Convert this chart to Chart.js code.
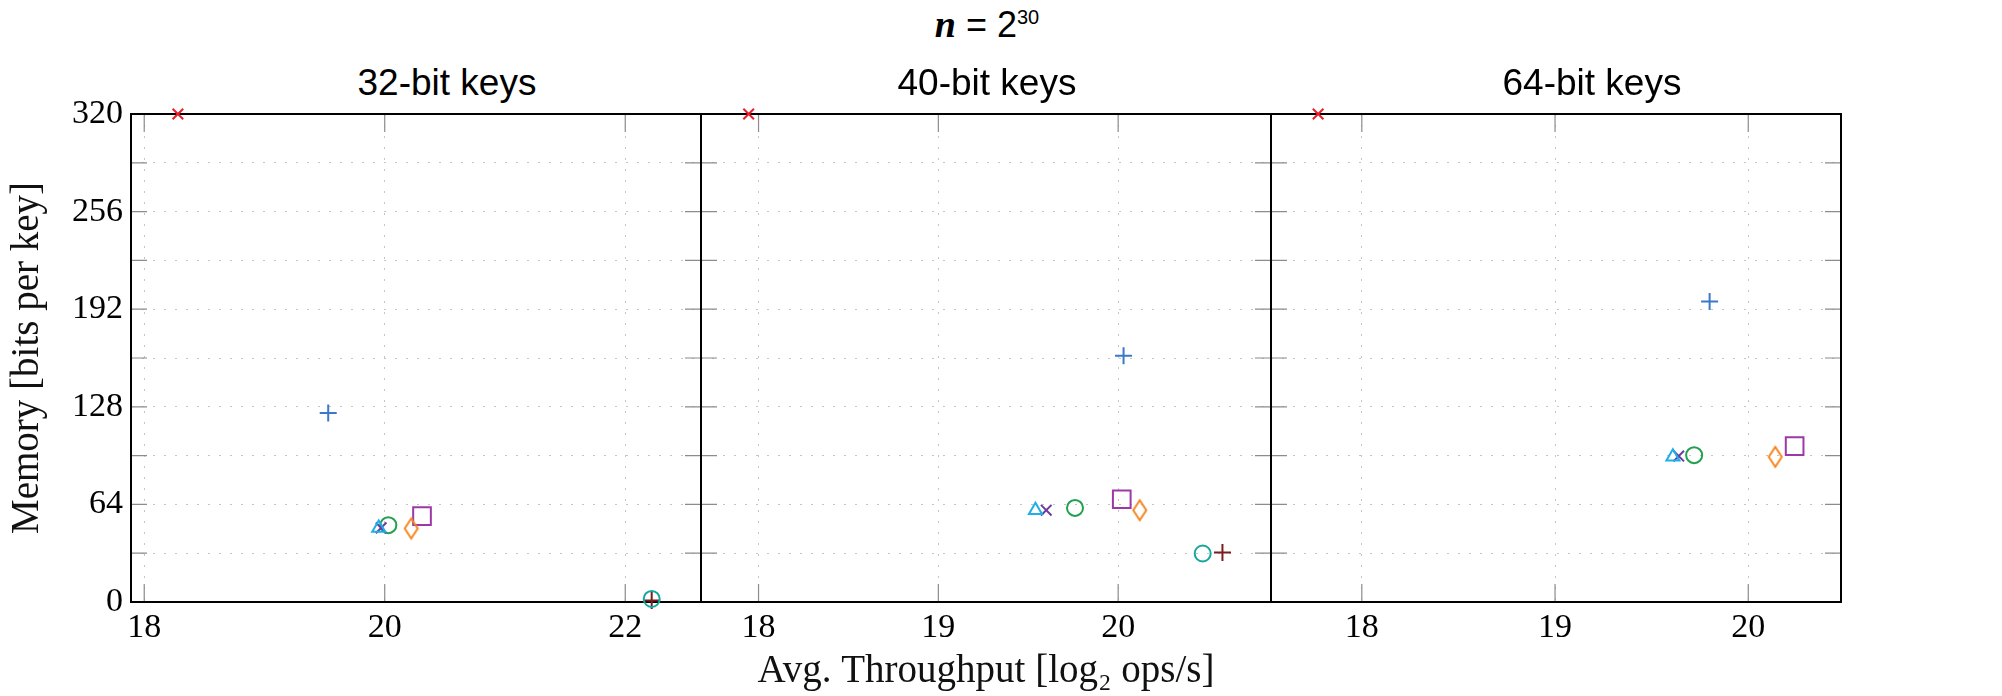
<!DOCTYPE html>
<html>
<head>
<meta charset="utf-8">
<title>n = 2^30 memory vs throughput</title>
<script src="https://cdn.jsdelivr.net/npm/chart.js@4.4.1/dist/chart.umd.min.js"></script>
<style>
  html, body { margin: 0; padding: 0; background: #fff; }
  #wrap { position: relative; width: 2002px; height: 696px; overflow: hidden; }
  #wrap canvas { position: absolute; left: 0; top: 0; }
  .ttl { position: absolute; transform: translateX(-50%); white-space: nowrap;
         font-family: 'Liberation Sans', Arial, sans-serif; color: #000; line-height: 1; }
</style>
</head>
<body>
<div id="wrap">
  <div class="ttl" style="left:987px; top:5px; font-size:36px;"><span style="font-family:'Liberation Serif',serif; font-weight:bold; font-style:italic; font-size:38px;">n</span> = 2<span style="font-size:20px; position:relative; top:-13px;">30</span></div>
</div>
<script>
// panels (one per key width)
const panelTitles = ['32-bit keys', '40-bit keys', '64-bit keys'];
const xMin = [17.89, 17.68, 17.53];
const xMax = [22.63, 20.85, 20.48];
const xTicks = [[18, 20, 22], [18, 19, 20], [18, 19, 20]];
const yTicks = [0, 32, 64, 96, 128, 160, 192, 224, 256, 288, 320];
const yLabels = [0, 64, 128, 192, 256, 320];

// avg throughput (log2 ops/s) per panel, null = not measured
const redCrossTp     = [18.28, 17.945, 17.774];
const blueplusTp     = [19.53, 20.03, 19.80];
const triangleTp     = [19.95, 19.54, 19.61];
const purpleCrossTp  = [19.97, 19.60, 19.64];
const greenCircleTp  = [20.03, 19.76, 19.72];
const diamondTp      = [20.22, 20.12, 20.14];
const squareTp       = [20.31, 20.02, 20.24];
const tealCircleTp   = [22.22, 20.47, null];
const darkPlusTp     = [22.22, 20.58, null];

// memory (bits per key) per panel
const redCrossMem    = [320, 320, 320];
const blueplusMem    = [124, 161.5, 197];
const triangleMem    = [48.6, 60.2, 95.2];
const purpleCrossMem = [48.6, 60.2, 95.7];
const greenCircleMem = [50.4, 61.7, 96.3];
const diamondMem     = [48.2, 60.2, 95.2];
const squareMem      = [56.3, 67.4, 102.2];
const tealCircleMem  = [2, 31.8, null];
const darkPlusMem    = [1, 32.4, null];

const seriesTp  = [redCrossTp, blueplusTp, triangleTp, purpleCrossTp, greenCircleTp, diamondTp, squareTp, tealCircleTp, darkPlusTp];
const seriesMem = [redCrossMem, blueplusMem, triangleMem, purpleCrossMem, greenCircleMem, diamondMem, squareMem, tealCircleMem, darkPlusMem];

// tall diamond marker
function diamond(color) {
  const c = document.createElement('canvas');
  c.width = 20; c.height = 26;
  const g = c.getContext('2d');
  g.strokeStyle = color; g.lineWidth = 2;
  g.beginPath();
  g.moveTo(10, 3); g.lineTo(16.5, 13); g.lineTo(10, 23); g.lineTo(3.5, 13);
  g.closePath(); g.stroke();
  return c;
}

const seriesStyle = [
  { color: '#e8202a', shape: 'crossRot', r: 7.5 },
  { color: '#3a78c9', shape: 'cross', r: 8.5 },
  { color: '#1eaee8', shape: 'triangle', r: 7.5 },
  { color: '#6a3c9e', shape: 'crossRot', r: 7.5 },
  { color: '#21a04f', shape: 'circle', r: 8 },
  { color: '#f5861f', shape: diamond('#f5861f'), r: 8 },
  { color: '#9c39a6', shape: 'rect', r: 12.5 },
  { color: '#14a89d', shape: 'circle', r: 8 },
  { color: '#7b1d1d', shape: 'cross', r: 8.5 }
];

// placement of each panel's plot area in the page
const areaLeft = [131, 701, 1271];
const areaRight = [701, 1271, 1841];
const titleCenter = [447, 987, 1592];

Chart.defaults.color = '#000';
Chart.defaults.font.family = "'Liberation Serif', serif";

const framePlugin = {
  id: 'frame',
  beforeDatasetsDraw(chart) {
    const { ctx, chartArea: a, scales } = chart;
    ctx.save();
    ctx.strokeStyle = '#8c8c8c';
    ctx.lineWidth = 1.2;
    ctx.beginPath();
    scales.y.ticks.forEach(t => {
      const py = scales.y.getPixelForValue(t.value);
      ctx.moveTo(a.left, py); ctx.lineTo(a.left + 16, py);
      ctx.moveTo(a.right - 16, py); ctx.lineTo(a.right, py);
    });
    scales.x.ticks.forEach(t => {
      const px = scales.x.getPixelForValue(t.value);
      ctx.moveTo(px, a.top); ctx.lineTo(px, a.top + 18);
      ctx.moveTo(px, a.bottom - 18); ctx.lineTo(px, a.bottom);
    });
    ctx.stroke();
    ctx.strokeStyle = '#000';
    ctx.lineWidth = 2;
    ctx.strokeRect(a.left, a.top, a.right - a.left, a.bottom - a.top);
    ctx.restore();
  }
};

const wrap = document.getElementById('wrap');

panelTitles.forEach((name, i) => {
  const t = document.createElement('div');
  t.className = 'ttl';
  t.style.left = titleCenter[i] + 'px';
  t.style.top = '64px';
  t.style.fontSize = '37px';
  t.textContent = name;
  wrap.appendChild(t);

  const cv = document.createElement('canvas');
  cv.width = 2002; cv.height = 696;
  wrap.appendChild(cv);

  const first = i === 0;
  const datasets = seriesStyle.map((st, s) => ({
    label: 'series ' + (s + 1),
    data: seriesTp[s]
      .map((x, p) => ({ x: x, y: seriesMem[s][p], p: p }))
      .filter(d => d.p === i && d.x !== null)
      .map(d => ({ x: d.x, y: d.y })),
    pointStyle: st.shape,
    pointRadius: st.r,
    pointBorderWidth: 2,
    pointBorderColor: st.color,
    pointBackgroundColor: 'rgba(0,0,0,0)',
    borderColor: st.color,
    backgroundColor: 'rgba(0,0,0,0)',
    showLine: false,
    clip: false
  }));

  const gridOpts = { color: '#c4c4c4', lineWidth: 1, drawTicks: false };
  const borderOpts = { display: false, dash: [2, 9] };

  new Chart(cv.getContext('2d'), {
    type: 'scatter',
    data: { datasets: datasets },
    options: {
      responsive: false,
      animation: false,
      devicePixelRatio: 1,
      layout: { padding: { left: first ? 0 : areaLeft[i], right: 2002 - areaRight[i], top: 114, bottom: 0 } },
      plugins: { legend: { display: false }, tooltip: { enabled: false } },
      scales: {
        x: {
          type: 'linear',
          min: xMin[i],
          max: xMax[i],
          afterBuildTicks: sc => { sc.ticks = xTicks[i].map(v => ({ value: v })); },
          afterFit: sc => { sc.height = 94; },
          grid: gridOpts,
          border: borderOpts,
          ticks: { padding: 6, color: '#000', font: { size: 34 } },
          title: {
            display: i === 1,
            text: 'Avg. Throughput [log\u2082 ops/s]',
            color: '#111',
            font: { size: 39 },
            padding: { top: 0, bottom: 1 }
          }
        },
        y: {
          type: 'linear',
          min: 0,
          max: 320,
          afterBuildTicks: sc => { sc.ticks = yTicks.map(v => ({ value: v })); },
          afterFit: sc => { sc.width = first ? areaLeft[0] : 0; },
          grid: gridOpts,
          border: borderOpts,
          ticks: {
            display: first,
            padding: 8,
            color: '#000',
            font: { size: 34 },
            callback: v => (yLabels.includes(v) ? String(v) : '')
          },
          title: {
            display: first,
            text: 'Memory [bits per key]',
            color: '#111',
            font: { size: 39 },
            padding: { top: 4, bottom: 0 }
          }
        }
      }
    },
    plugins: [framePlugin]
  });
});
</script>
</body>
</html>
